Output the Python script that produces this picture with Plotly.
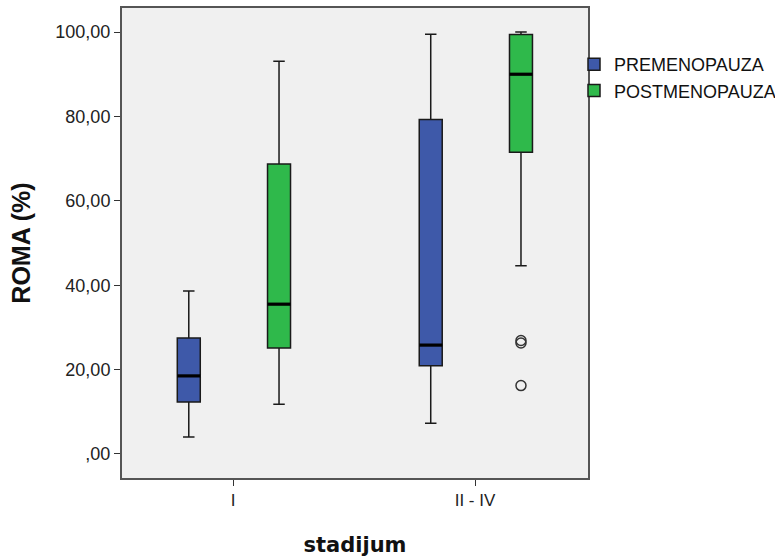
import plotly.graph_objects as go

categories = ["I", "II - IV"]
groups = ["PREMENOPAUZA", "POSTMENOPAUZA"]

# box statistics per group, per category
pre_low = [4.0, 7.3]
pre_q1 = [12.3, 20.9]
pre_med = [18.5, 25.8]
pre_q3 = [27.5, 79.3]
pre_high = [38.6, 99.5]

post_low = [11.8, 44.6]
post_q1 = [25.1, 71.5]
post_med = [35.5, 90.0]
post_q3 = [68.7, 99.4]
post_high = [93.1, 100.0]

post_outliers_cat = [1, 1, 1]
post_outliers_val = [26.3, 26.9, 16.2]

yticks = [0, 20, 40, 60, 80, 100]
yticktext = [",00", "20,00", "40,00", "60,00", "80,00", "100,00"]

colors = {"PREMENOPAUZA": "#3e59a9", "POSTMENOPAUZA": "#2fb94b"}
offsets = {"PREMENOPAUZA": -0.183, "POSTMENOPAUZA": 0.19}
bw = 0.095

fig = go.Figure()
stats = {
    "PREMENOPAUZA": (pre_low, pre_q1, pre_med, pre_q3, pre_high),
    "POSTMENOPAUZA": (post_low, post_q1, post_med, post_q3, post_high),
}
for g in groups:
    lo, q1, md, q3, hi = stats[g]
    xs = [i + offsets[g] for i in range(len(categories))]
    fig.add_trace(go.Box(
        name=g, x=xs, q1=q1, median=md, q3=q3, lowerfence=lo, upperfence=hi,
        width=bw, whiskerwidth=0.5, fillcolor=colors[g],
        line=dict(color="#1a1a1a", width=1.5), boxpoints=False,
        hoverinfo="skip",
    ))
    for i in range(len(categories)):
        fig.add_trace(go.Scatter(
            x=[xs[i] - bw / 2, xs[i] + bw / 2], y=[md[i], md[i]], mode="lines",
            line=dict(color="black", width=3.2), showlegend=False, hoverinfo="skip",
        ))

fig.add_trace(go.Scatter(
    x=[c + offsets["POSTMENOPAUZA"] for c in post_outliers_cat], y=post_outliers_val,
    mode="markers", marker=dict(symbol="circle-open", size=10, color="#333",
                                line=dict(width=1.5)),
    showlegend=False, hoverinfo="skip",
))

fig.update_layout(
    width=775, height=557,
    margin=dict(l=122, r=187, t=8, b=79, autoexpand=False),
    paper_bgcolor="white", plot_bgcolor="#f0f0f0",
    font=dict(family="Liberation Sans, Arial", size=18, color="#222"),
    showlegend=True,
    legend=dict(xref="container", yref="container", x=574 / 775, y=1 - 46 / 557,
                xanchor="left", yanchor="top",
                font=dict(size=18, color="#111"), tracegroupgap=0, itemwidth=30,
                bgcolor="rgba(0,0,0,0)"),
)
fig.update_xaxes(
    range=[-0.459, 1.467], tickvals=[0, 1], ticktext=categories,
    tickfont=dict(size=17),
    showgrid=False, zeroline=False, ticks="outside", ticklen=6, tickcolor="#333",
    showline=True, linecolor="#555", linewidth=2, mirror=True,
    title=dict(text="<b>stadijum</b>", font=dict(family="DejaVu Sans", size=21, color="#111"), standoff=28),
)
fig.update_yaxes(
    range=[-5.7, 105.7], tickvals=yticks, ticktext=yticktext,
    tickfont=dict(size=18),
    showgrid=False, zeroline=False, ticks="outside", ticklen=6, tickcolor="#333",
    showline=True, linecolor="#555", linewidth=2, mirror=True,
    title=dict(text="<b>ROMA (%)</b>", font=dict(family="Liberation Sans, Arial", size=25, color="#111"), standoff=18),
)

fig.write_html("out.html")
